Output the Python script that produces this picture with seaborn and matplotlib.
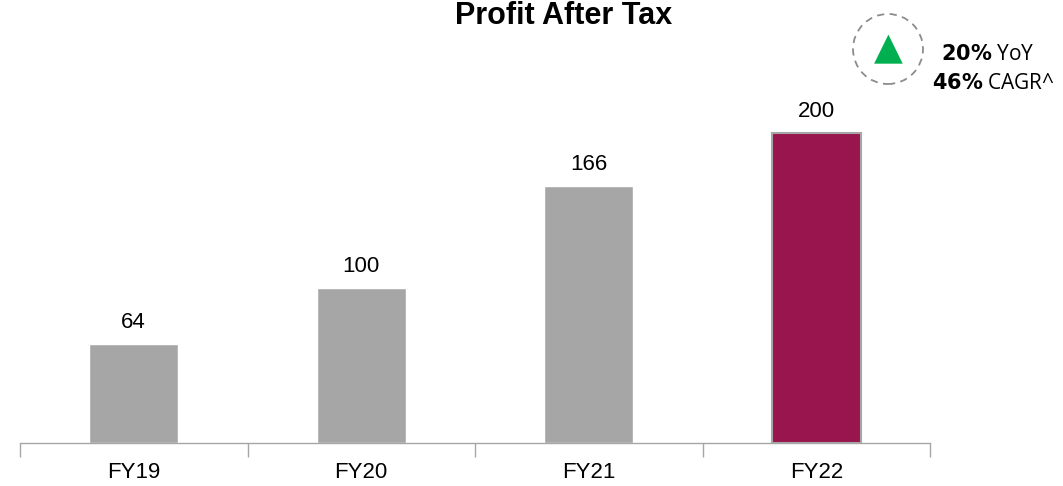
import pandas as pd
import matplotlib.pyplot as plt
import seaborn as sns
from matplotlib.patches import Ellipse

sns.set_theme(style="white")
plt.rcParams['font.family'] = ['Liberation Sans', 'DejaVu Sans']
plt.rcParams['text.color'] = "black"

years = ["FY19", "FY20", "FY21", "FY22"]
pat = [64, 100, 166, 200]
bar_colors = ["#A6A6A6", "#A6A6A6", "#A6A6A6", "#98154D"]
yoy_text = "20%"
cagr_text = "46%"

df = pd.DataFrame({"year": years, "pat": pat})

fig = plt.figure(figsize=(10.63, 4.86), dpi=100)
ax = fig.add_axes([20 / 1063, 1 - 443 / 486, 910 / 1063, 443 / 486])

sns.barplot(data=df, x="year", y="pat", hue="year", palette=bar_colors,
            width=0.39, legend=False, ax=ax, saturation=1)
# thin grey outline on the highlighted bar
ax.patches[3].set_edgecolor("#A6A6A6")
ax.patches[3].set_linewidth(1.5)

for i, v in enumerate(pat):
    ax.annotate(str(v), (i, v), xytext=(0, 8), textcoords="offset points",
                ha="center", va="bottom", fontsize=16, color="black")

ax.set_xlim(-0.5, 3.5)
ax.set_ylim(0, 286)
ax.set_xlabel("")
ax.set_ylabel("")
ax.set_yticks([])
for s in ["top", "right", "left"]:
    ax.spines[s].set_visible(False)
ax.spines["bottom"].set_color("#A6A6A6")
ax.spines["bottom"].set_linewidth(1)
ax.set_xticks([-0.5, 0.5, 1.5, 2.5, 3.5], minor=True)
ax.tick_params(axis="x", which="minor", length=10, color="#A6A6A6", width=1,
               bottom=True, direction="out")
ax.tick_params(axis="x", which="major", length=0, labelsize=16, pad=14,
               labelcolor="black")

fig.text(564 / 1063, 1 - 1 / 486, "Profit After Tax", ha="center",
         va="top", fontsize=22, fontweight="bold", color="black")

# growth callout
cx, cy = 888 / 1063, 1 - 49 / 486
circ = Ellipse((cx, cy), 70 / 1063, 70 / 486, transform=fig.transFigure,
               fill=False, edgecolor="#8C8C8C", linestyle=(0, (4, 3)), lw=1.3)
fig.add_artist(circ)
fig.text(cx, cy, "\u25B2", ha="center", va="center", fontsize=27,
         color="#00B050", family=["DejaVu Sans"])
fig.text(941 / 1063, 1 - 60 / 486, f"$\\bf{{{yoy_text[:-1]}\\%}}$ YoY",
         ha="left", va="baseline", fontsize=15, color="black",
         family=["Open Sans"])
fig.text(932 / 1063, 1 - 89 / 486, f"$\\bf{{{cagr_text[:-1]}\\%}}$ CAGR^",
         ha="left", va="baseline", fontsize=15, color="black",
         family=["Open Sans"])

fig.savefig("out.png", dpi=100)
